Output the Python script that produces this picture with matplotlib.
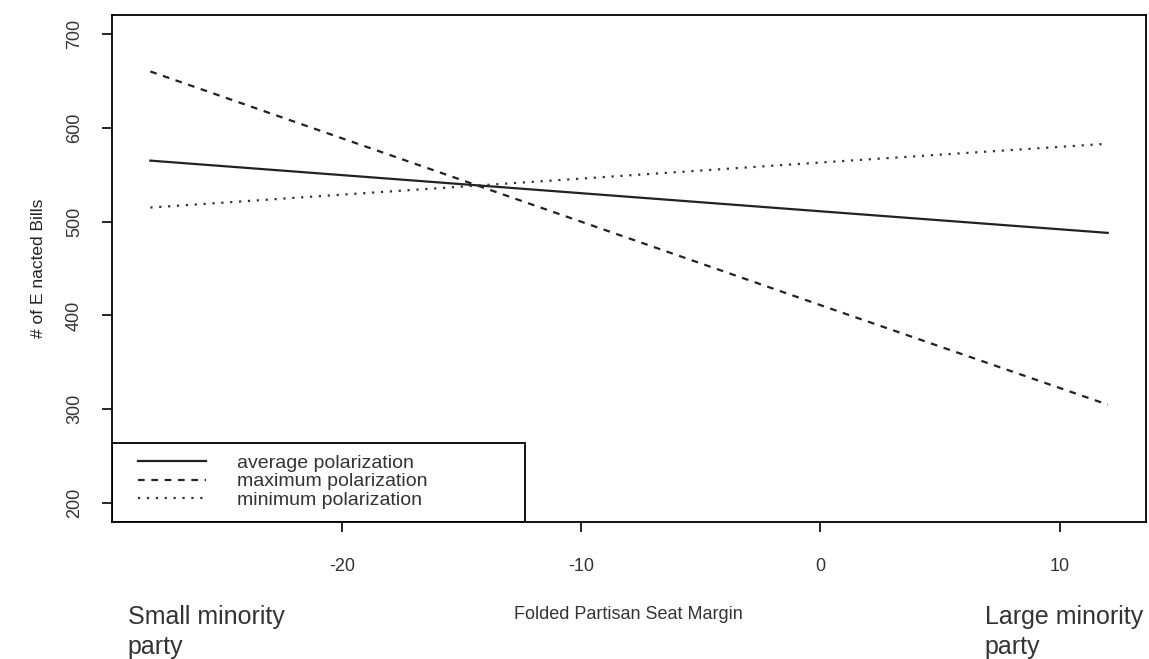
import matplotlib.pyplot as plt
from matplotlib.patches import Rectangle

plt.rcParams['font.family'] = ['Liberation Sans', 'DejaVu Sans']

# predicted number of enacted bills by seat margin
seat_margin = [-28, 0, 12]
avg_pol = [565, 511, 488]
max_pol = [660, 411, 305]
min_pol = [515, 563, 583]

series_labels = ["average polarization", "maximum polarization", "minimum polarization"]
y_ticks = [200, 300, 400, 500, 600, 700]
x_ticks = [-20, -10, 0, 10]

fig = plt.figure(figsize=(11.49, 6.59), dpi=100)
ax = fig.add_axes([0.0975, 0.208, 0.8999, 0.769])

ax.plot(seat_margin, avg_pol, color="#222222", lw=1.6, linestyle="-", label=series_labels[0])
ax.plot(seat_margin, max_pol, color="#222222", lw=1.6, linestyle=(0, (3, 3)), label=series_labels[1])
ax.plot(seat_margin, min_pol, color="#333333", lw=1.6, linestyle=(0, (1, 3)), label=series_labels[2])

ax.set_xlim(-29.6, 13.6)
ax.set_ylim(180, 720)
ax.set_xticks(x_ticks)
ax.set_xticklabels([str(t) for t in x_ticks])
ax.set_yticks(y_ticks)
ax.set_yticklabels([str(t) for t in y_ticks], rotation=90, va="center")
ax.tick_params(axis="both", direction="out", length=7, width=1.2, labelsize=13, labelcolor="#333333")
ax.tick_params(axis="x", pad=19)
ax.tick_params(axis="y", pad=14)
for s in ax.spines.values():
    s.set_linewidth(1.3)

ax.set_ylabel("# of E nacted Bills", fontsize=12.5, color="#222222", labelpad=14)

# legend box, R-style
ax.add_patch(Rectangle((0, 0), 0.399, 0.156, transform=ax.transAxes, fill=False,
                       edgecolor="black", lw=1.3, zorder=5))
leg = ax.legend(loc="lower left", bbox_to_anchor=(0.01, -0.005), frameon=False, fontsize=14,
                handlelength=3.5, handletextpad=1.6, labelspacing=0.05, borderpad=0.3)
for t in leg.get_texts():
    t.set_color("#333333")

fig.text(0.547, 0.067, "Folded Partisan Seat Margin", ha="center", va="center",
         fontsize=13, color="#333333")
fig.text(0.111, 0.041, "Small minority\nparty", ha="left", va="center",
         fontsize=18, color="#333333", linespacing=1.3)
fig.text(0.857, 0.041, "Large minority\nparty", ha="left", va="center",
         fontsize=18, color="#333333", linespacing=1.3)

fig.savefig("out.png", dpi=100)
